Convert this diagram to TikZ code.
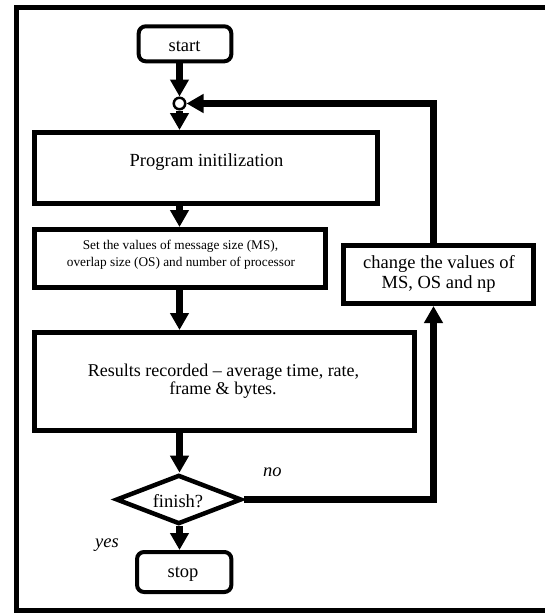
\documentclass[tikz,border=0pt]{standalone}
\usepackage{fontspec}
\setmainfont{Liberation Serif}
\usetikzlibrary{arrows.meta,shapes.geometric}

\begin{document}
\begin{tikzpicture}[x=1pt,y=-1pt,
  flow/.style={line width=7pt, -{Triangle[length=17pt,width=18pt]}},
  procbox/.style={draw, line width=5pt, inner sep=0pt},
  termbox/.style={draw, line width=4pt, rounded corners=7pt, inner sep=0pt},
  lbl/.style={anchor=base, inner sep=0pt, font=\fontsize{18.5}{20}\selectfont},
  reslbl/.style={anchor=base, inner sep=0pt, font=\fontsize{18}{20}\selectfont},
  smalllbl/.style={anchor=base, inner sep=0pt, font=\fontsize{13.3}{16}\selectfont},
  note/.style={anchor=base west, inner sep=0pt, font=\fontsize{18.5}{20}\selectfont\itshape},
]
\useasboundingbox (0,0) rectangle (545,613);

% outer frame, open towards the right edge
\draw[line width=5pt] (560,7.75) -- (16.5,7.75) -- (16.5,610.5) -- (560,610.5);

% terminals
\node[termbox, minimum width=92.6pt, minimum height=35pt] (start) at (185,43.8) {};
\node[lbl] (starttxt) at (184.5,51) {start};
\node[termbox, minimum width=94.3pt, minimum height=40pt] (stop) at (184.2,572) {};
\node[lbl] (stoptxt) at (183,577) {stop};

% junction where the loop re-enters
\node[circle, draw, line width=2.5pt, fill=white, minimum size=11.5pt, inner sep=0pt] (junc) at (179.5,103.5) {};

% process steps
\node[procbox, minimum width=343pt, minimum height=71pt] (prog) at (206,168) {};
\node[lbl] (progtxt) at (206.5,166.5) {Program initilization};

\node[procbox, minimum width=291pt, minimum height=58pt] (set) at (180,258.5) {};
\node[smalllbl] (settxta) at (180.5,249) {Set the values of message size (MS),};
\node[smalllbl] (settxtb) at (181,266) {overlap size (OS) and number of processor};

\node[procbox, minimum width=380pt, minimum height=98pt] (res) at (224.5,381.5) {};
\node[reslbl] (restxta) at (223.5,376.5) {Results recorded -- average time, rate,};
\node[reslbl] (restxtb) at (223,394) {frame \& bytes.};

\node[procbox, minimum width=190pt, minimum height=58pt] (chg) at (438.5,274.5) {};
\node[lbl] (chgtxta) at (439,268) {change the values of};
\node[lbl] (chgtxtb) at (438.7,288.3) {MS, OS and np};

% decision
\node[diamond, draw, line width=4.5pt, minimum width=125.6pt, minimum height=49.2pt,
      aspect=2.5, inner sep=0pt] (fin) at (178.8,499.5) {};
\node[lbl] (fintxt) at (178,507) {finish?};
\node[note] (no) at (263,476.5) {no};
\node[note] (yes) at (95,547.3) {yes};

% vertical rail of the feedback loop
\coordinate (rail) at (433.5,300);

% connectors
\draw[flow] (start.south -| junc) -- (junc.north);
\draw[flow] (junc.south) -- (prog.north -| junc);
\draw[flow] (prog.south -| junc) -- (set.north -| junc);
\draw[flow] (set.south -| junc) -- (res.north -| junc);
\draw[flow] (res.south -| junc) -- (fin.north -| junc);
\draw[flow] (fin.south -| junc) -- (stop.north -| junc);
\draw[flow] (fin.east) -- (fin.east -| rail) -- (chg.south -| rail);
\draw[flow] (chg.north -| rail) -- (rail |- junc) -- (junc.east);
\end{tikzpicture}
\end{document}
